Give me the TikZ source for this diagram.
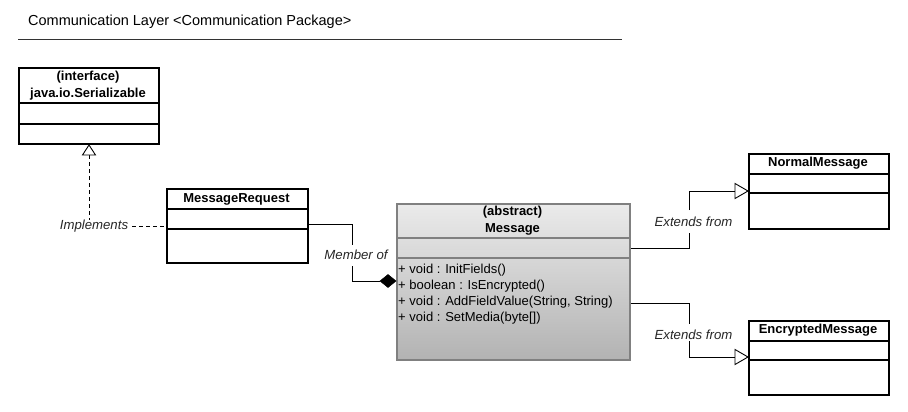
\documentclass[tikz,border=0pt]{standalone}
\usepackage{fontspec}
\setmainfont{Liberation Sans}
\begin{document}
\begin{tikzpicture}[x=1pt,y=-1pt,
  box/.style={draw=black, line width=2pt, fill=white, inner sep=0, anchor=north west},
  div/.style={line width=2pt},
  conn/.style={line width=0.9pt, black},
  cname/.style={font=\bfseries\fontsize{13}{16.5}\selectfont, align=center, inner sep=0},
  lbl/.style={font=\itshape\fontsize{13.2}{15}\selectfont, inner sep=0, text=black!85},
  meth/.style={font=\fontsize{13}{16}\selectfont, inner sep=0, anchor=base west},
  opentri/.style={draw=black, line width=0.9pt, fill=white},
]
\useasboundingbox (0,0) rectangle (908,412);

% title
\node[font=\fontsize{14.5}{17}\selectfont, anchor=west, inner sep=0] (title) at (28,22) {Communication Layer <Communication Package>};
\coordinate (tl) at (18,40);
\coordinate (tr) at (622,40);
\draw[line width=1pt, black!80] (tl) -- (tr);

% Serializable
\node[box, minimum width=140, minimum height=76] (ser) at (18,67) {};
\node[cname] (sername) at (88,85.5) {(interface)\\java.io.Serializable};
\draw[div] (ser.west |- 0,103) -- (ser.east |- 0,103);
\draw[div] (ser.west |- 0,124) -- (ser.east |- 0,124);

% MessageRequest
\node[box, minimum width=141, minimum height=74] (mr) at (166,188) {};
\node[cname] (mrname) at (236.5,199) {MessageRequest};
\draw[div] (mr.west |- 0,209) -- (mr.east |- 0,209);
\draw[div] (mr.west |- 0,229) -- (mr.east |- 0,229);

% Message
\node[draw=black!50, line width=2pt, top color=black!8, bottom color=black!30, inner sep=0, anchor=north west, minimum width=233, minimum height=156] (msg) at (396,203) {};
\node[cname] (msgname) at (512.5,220.5) {(abstract)\\Message};
\draw[div, black!50] (msg.west |- 0,238) -- (msg.east |- 0,238);
\draw[div, black!50] (msg.west |- 0,258) -- (msg.east |- 0,258);
\node[meth] (m1) at (398,273.5) {+ void : InitFields()};
\node[meth] (m2) at (398,289.5) {+ boolean : IsEncrypted()};
\node[meth] (m3) at (398,305.5) {+ void : AddFieldValue(String, String)};
\node[meth] (m4) at (398,321.5) {+ void : SetMedia(byte[])};

% NormalMessage
\node[box, minimum width=140, minimum height=75] (nm) at (748,153) {};
\node[cname] (nmname) at (818,163.5) {NormalMessage};
\draw[div] (nm.west |- 0,174) -- (nm.east |- 0,174);
\draw[div] (nm.west |- 0,193) -- (nm.east |- 0,193);

% EncryptedMessage
\node[box, minimum width=140, minimum height=74] (em) at (748,320) {};
\node[cname] (emname) at (818,330.5) {EncryptedMessage};
\draw[div] (em.west |- 0,341) -- (em.east |- 0,341);
\draw[div] (em.west |- 0,360) -- (em.east |- 0,360);

% Implements
\node[lbl] (impl) at (94,226) {Implements};
\draw[conn, dashed, dash pattern=on 4pt off 3pt] (89,155) -- (impl.north -| 89,0) ++(0,-3);
\draw[conn, dashed, dash pattern=on 4pt off 3pt] (impl.east) ++(4,0) -- (mr.west |- impl.east);
\draw[opentri] (ser.south -| 89,0) -- (82.5,155) -- (95.5,155) -- cycle;

% Member of
\node[lbl] (memb) at (356,255) {Member of};
\coordinate (dm) at (380,281);
\draw[conn] (mr.east |- 0,224) -- (352,224) -- (352,245);
\draw[conn] (352,266) -- (352,281) -- (dm);
\draw[fill=black, line width=0.5pt] (dm) -- (388,274.5) -- (msg.west |- dm) -- (388,287.5) -- cycle;

% Extends from (upper)
\node[lbl] (ext1) at (693.5,222) {Extends from};
\draw[conn] (msg.east |- 0,248) -- (689,248) -- (689,233);
\draw[conn] (689,210) -- (689,191) -- (735,191);
\draw[opentri] (nm.west |- 0,191) -- (735,183.5) -- (735,198.5) -- cycle;

% Extends from (lower)
\node[lbl] (ext2) at (693.5,335) {Extends from};
\draw[conn] (msg.east |- 0,303) -- (689,303) -- (689,324);
\draw[conn] (689,341) -- (689,357) -- (735,357);
\draw[opentri] (em.west |- 0,357) -- (735,349.5) -- (735,364.5) -- cycle;
\end{tikzpicture}
\end{document}
